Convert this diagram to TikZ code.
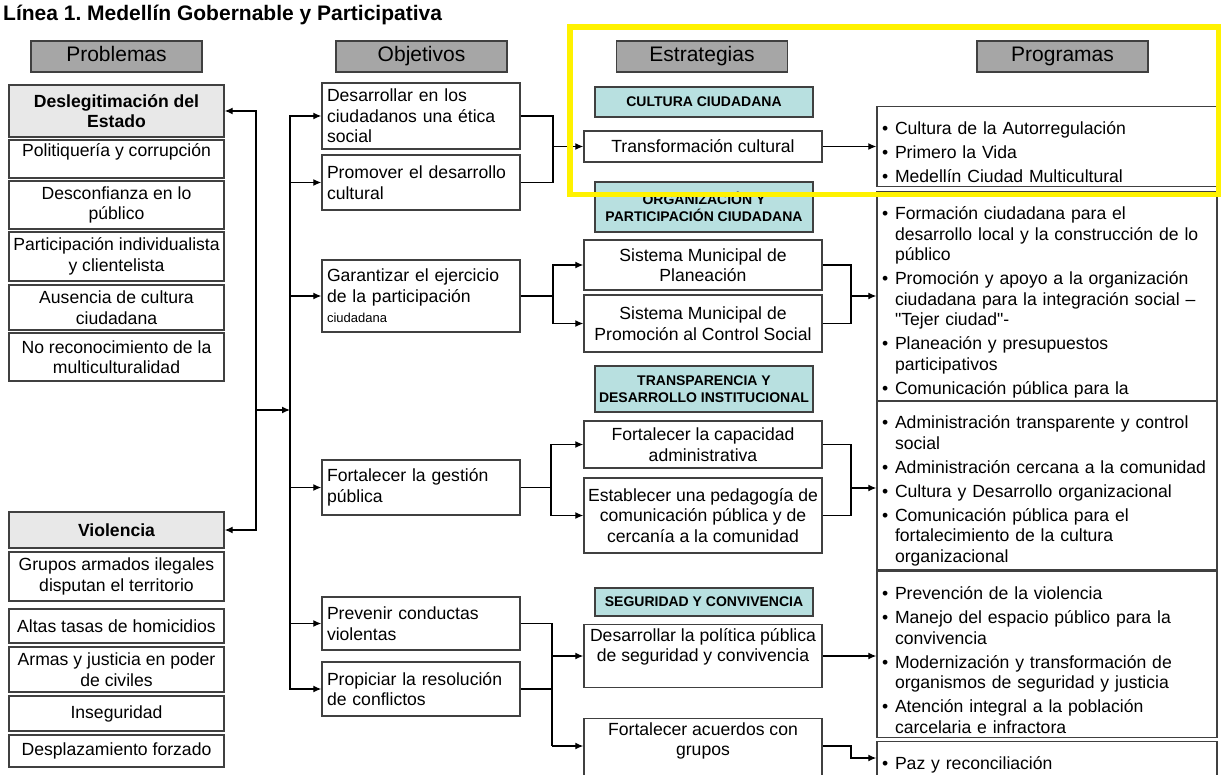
\documentclass[tikz,border=0pt]{standalone}
\usepackage{fontspec}
\setmainfont{Liberation Sans}[Ligatures=TeXOff]
\usetikzlibrary{arrows.meta,positioning}

\definecolor{hdrgray}{HTML}{A6A6A6}
\definecolor{litegray}{HTML}{E8E8E8}
\definecolor{tealfill}{HTML}{B8E0E0}
\definecolor{edgegray}{HTML}{404040}
\definecolor{marker}{HTML}{FFF200}

\newcommand{\bul}[1]{\par\noindent\hangindent=13pt\hangafter=1\makebox[13pt][l]{\textbullet}#1\par}

\tikzset{
  basebox/.style={draw=edgegray, line width=1.4pt, fill=white, inner xsep=4pt, inner ysep=4pt},
  header/.style={basebox, fill=hdrgray, minimum width=171pt, minimum height=31pt, text height=15pt, text depth=4pt, font=\fontsize{21}{24}\selectfont},
  probbox/.style={basebox, minimum width=215pt, align=center, font=\fontsize{17.6}{20.5}\selectfont},
  probhead/.style={probbox, fill=litegray, font=\bfseries\fontsize{17.6}{20.5}\selectfont},
  objbox/.style={basebox, text width=188pt, inner xsep=5pt, align=left, font=\fontsize{17.6}{20.5}\selectfont},
  estbox/.style={basebox, minimum width=238pt, align=center, font=\fontsize{17.6}{20.5}\selectfont},
  tealbox/.style={basebox, fill=tealfill, minimum width=218pt, align=center, font=\bfseries\fontsize{14}{17}\selectfont},
  progbox/.style={basebox, text width=330pt, inner xsep=5pt, font=\fontsize{17.6}{20.5}\selectfont\setlength{\parskip}{3.5pt}},
  link/.style={line width=1.3pt},
  arr/.style={link, -{Latex[length=8pt,width=7pt]}}
}

\begin{document}
\begin{tikzpicture}[x=1pt,y=-1pt]
  \useasboundingbox[fill=white] (0,0) rectangle (1222,775);

  % title and column headers
  \node[anchor=base west, inner sep=0pt, font=\bfseries\fontsize{21}{24}\selectfont] (title) at (3,21) {Línea 1.\ Medellín Gobernable y Participativa};
  \node[header] (hprob) at (116.5,56.5) {Problemas};
  \node[header] (hobj) at (421.5,56.5) {Objetivos};
  \node[header] (hest) at (702,56.5) {Estrategias};
  \node[header] (hprog) at (1062.5,56.5) {Programas};

  % problemas
  \node[probhead, minimum height=52pt] (desl) at (116.5,111) {Deslegitimación del\\Estado};
  \node[probbox, text height=13pt, text depth=17pt] (poli) at (116.5,159) {Politiquería y corrupción};
  \node[probbox, minimum height=48pt] (desc) at (116.5,205) {Desconfianza en lo\\público};
  \node[probbox, minimum height=49pt] (indiv) at (116.5,256.5) {Participación individualista\\y clientelista};
  \node[probbox, minimum height=45pt] (ause) at (116.5,307.5) {Ausencia de cultura\\ciudadana};
  \node[probbox, minimum height=48pt] (multi) at (116.5,357) {No reconocimiento de la\\multiculturalidad};
  \node[probhead, minimum height=36pt] (viol) at (116.5,530) {Violencia};
  \node[probbox, minimum height=49pt] (grup) at (116.5,576.5) {Grupos armados ilegales\\disputan el territorio};
  \node[probbox, minimum height=34pt] (homi) at (116.5,626) {Altas tasas de homicidios};
  \node[probbox, minimum height=45pt] (arma) at (116.5,669.5) {Armas y justicia en poder\\de civiles};
  \node[probbox, minimum height=35pt] (inse) at (116.5,713.5) {Inseguridad};
  \node[probbox, minimum height=32pt] (despl) at (116.5,751) {Desplazamiento forzado};

  % objetivos
  \node[objbox, minimum height=66pt] (etica) at (421,116) {Desarrollar en los\\ciudadanos una ética\\social};
  \node[objbox, minimum height=55pt] (cult) at (421,182.5) {Promover el desarrollo\\cultural};
  \node[objbox, minimum height=72pt] (garan) at (421,296) {Garantizar el ejercicio\\de la participación\\{\fontsize{13}{15}\selectfont ciudadana}};
  \node[objbox, minimum height=55pt] (gest) at (421,487.5) {Fortalecer la gestión\\pública};
  \node[objbox, minimum height=53pt] (prev) at (421,623.5) {Prevenir conductas\\violentas};
  \node[objbox, minimum height=54pt] (conf) at (421,689) {Propiciar la resolución\\de conflictos};

  % estrategias
  \node[tealbox, minimum height=30pt] (tcult) at (704,102) {CULTURA CIUDADANA};
  \node[estbox, minimum height=31pt] (transf) at (703,146.5) {Transformación cultural};
  \node[tealbox, minimum height=50pt] (torg) at (704,207) {ORGANIZACIÓN Y\\PARTICIPACIÓN CIUDADANA};
  \node[estbox, minimum height=50pt] (smp) at (703,265) {Sistema Municipal de\\Planeación};
  \node[estbox, minimum height=57pt] (smcs) at (703,323.5) {Sistema Municipal de\\Promoción al Control Social};
  \node[tealbox, minimum height=46pt] (ttrans) at (704,389) {TRANSPARENCIA Y\\DESARROLLO INSTITUCIONAL};
  \node[estbox, minimum height=47pt] (capad) at (703,444.5) {Fortalecer la capacidad\\administrativa};
  \node[estbox, minimum height=75pt] (pedag) at (703,515.5) {Establecer una pedagogía de\\comunicación pública y de\\cercanía a la comunidad};
  \node[tealbox, minimum height=28pt] (tseg) at (704,602) {SEGURIDAD Y CONVIVENCIA};
  \node[estbox, anchor=north, text height=33pt, text depth=22pt] (polit) at (703,624) {Desarrollar la política pública\\de seguridad y convivencia};
  \node[estbox, anchor=north, text height=33pt, text depth=40pt] (acuer) at (703,718) {Fortalecer acuerdos con\\grupos};

  % programas
  \node[progbox, minimum height=77pt] (prog1) at (1047,146.5) {\bul{Cultura de la Autorregulación}\bul{Primero la Vida}\bul{Medellín Ciudad Multicultural}};
  \node[progbox, minimum height=200pt] (prog2) at (1047,297) {\bul{Formación ciudadana para el\newline desarrollo local y la construcción de lo\newline público}\bul{Promoción y apoyo a la organización\newline ciudadana para la integración social –\newline "Tejer ciudad"-}\bul{Planeación y presupuestos\newline participativos}\bul{Comunicación pública para la}};
  \node[progbox, minimum height=159pt] (prog3) at (1047,485.5) {\bul{Administración transparente y control\newline social}\bul{Administración cercana a la comunidad}\bul{Cultura y Desarrollo organizacional}\bul{Comunicación pública para el\newline fortalecimiento de la cultura\newline organizacional}};
  \node[progbox, minimum height=157pt] (prog4) at (1047,654.5) {\bul{Prevención de la violencia}\bul{Manejo del espacio público para la\newline convivencia}\bul{Modernización y transformación de\newline organismos de seguridad y justicia}\bul{Atención integral a la población\newline carcelaria e infractora}};
  \node[progbox, anchor=north, text height=0pt, text depth=40pt] (prog5) at (1047,741) {\bul{Paz y reconciliación}};

  % problemas <- -> objetivos
  \coordinate (pbus) at (256,410);
  \coordinate (obus) at (290,410);
  \draw[arr] (pbus) |- (desl.east);
  \draw[arr] (pbus) |- (viol.east);
  \draw[arr] (pbus) -- (obus);
  \foreach \o in {etica,cult,garan,gest,prev,conf}
    \draw[arr] (obus) |- (\o.west);

  % objetivos -> estrategias -> programas
  \coordinate (jcult) at (553,146.5);
  \draw[link] (etica.east) -| (jcult);
  \draw[link] (cult.east) -| (jcult);
  \draw[arr] (jcult) -- (transf.west);
  \draw[arr] (transf.east) -- (prog1.west);

  \coordinate (jpart) at (553,296);
  \coordinate (kpart) at (851,296);
  \draw[link] (garan.east) -- (jpart);
  \draw[arr] (jpart) |- (smp.west);
  \draw[arr] (jpart) |- (smcs.west);
  \draw[link] (smp.east) -| (kpart);
  \draw[link] (smcs.east) -| (kpart);
  \draw[arr] (kpart) -- (kpart -| prog2.west);

  \coordinate (jgest) at (551,487.5);
  \coordinate (kgest) at (851,488);
  \draw[link] (gest.east) -- (jgest);
  \draw[arr] (jgest) |- (capad.west);
  \draw[arr] (jgest) |- (pedag.west);
  \draw[link] (capad.east) -| (kgest);
  \draw[link] (pedag.east) -| (kgest);
  \draw[arr] (kgest) -- (kgest -| prog3.west);

  \coordinate (jseg) at (552,656);
  \coordinate (jacu) at (552,746);
  \coordinate (kacu) at (851,758);
  \draw[link] (prev.east) -| (jseg);
  \draw[link] (conf.east) -| (jseg);
  \draw[link] (jseg) -- (jacu);
  \draw[arr] (jseg) -- (jseg -| polit.west);
  \draw[arr] (jacu) -- (jacu -| acuer.west);
  \draw[arr] (jseg -| polit.east) -- (jseg -| prog4.west);
  \draw[arr] (jacu -| acuer.east) -| (kacu) -- (kacu -| prog5.west);

  % highlight
  \draw[marker, line width=5.5pt] (570,27) rectangle (1218.5,194.5);
\end{tikzpicture}
\end{document}
